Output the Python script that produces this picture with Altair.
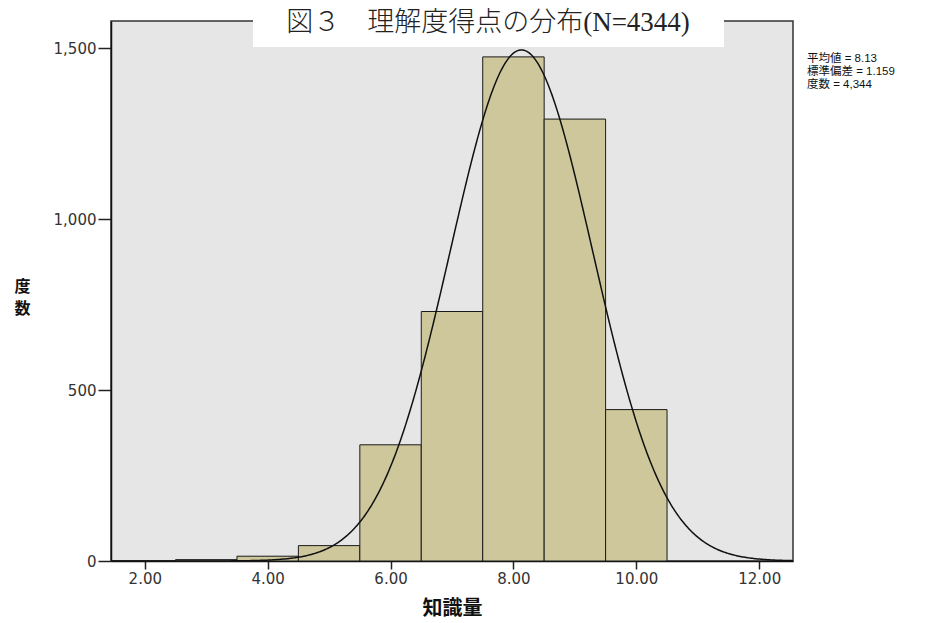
import math
import altair as alt
import pandas as pd

# ---- data ----
bin_centers = [3, 4, 5, 6, 7, 8, 9, 10]
counts = [4, 14, 45, 340, 730, 1475, 1293, 443]
bin_width = 1.0
mean_value = 8.13
sd_value = 1.159
n_total = 4344
x_ticks = [2, 4, 6, 8, 10, 12]
y_ticks = [0, 500, 1000, 1500]
x_domain = [1.45, 12.55]
y_domain = [0, 1580]
title_text = "図３　理解度得点の分布(N=4344)"
stats_lines = ["平均値 = 8.13", "標準偏差 = 1.159", "度数 = 4,344"]
x_title = "知識量"
y_title = ["度", "数"]

bars_df = pd.DataFrame({
    "lo": [c - bin_width / 2 for c in bin_centers],
    "hi": [c + bin_width / 2 for c in bin_centers],
    "count": counts,
})

W, H = 682, 540
label_font = "DejaVu Sans"
cjk_font = "Noto Sans CJK JP"

x_enc = alt.X(
    "lo:Q",
    scale=alt.Scale(domain=x_domain, nice=False, zero=False),
    axis=alt.Axis(values=x_ticks, format=".2f", title=x_title, tickSize=8,
                  labelPadding=2, titleY=47, titleBaseline="middle",
                  titleFont=cjk_font, titleFontSize=20, titleFontWeight="bold"),
)
y_enc = alt.Y(
    "count:Q",
    scale=alt.Scale(domain=y_domain, nice=False),
    axis=alt.Axis(values=y_ticks, format=",d", title=y_title, tickSize=13,
                  labelPadding=2, titleAngle=0, titleX=-89, titleY=H / 2 - 5,
                  titleAlign="center", titleBaseline="middle", titleLineHeight=22,
                  titleFont=cjk_font, titleFontSize=16, titleFontWeight="bold"),
)

bars = alt.Chart(bars_df).mark_rect(
    fill="#CDC79B", stroke="#1a1a1a", strokeWidth=1
).encode(x=x_enc, x2="hi:Q", y=y_enc, y2=alt.datum(0))

# fitted normal curve from the stated mean / sd (as in the reference)
peak = n_total * bin_width / (sd_value * math.sqrt(2 * math.pi))
curve = alt.Chart(alt.sequence(1.45, 12.56, 0.02, as_="lo")).transform_calculate(
    count=f"{peak} * exp(-0.5 * pow((datum.lo - {mean_value}) / {sd_value}, 2))"
).mark_line(color="#111", strokeWidth=1.5, clip=True).encode(
    x=alt.X("lo:Q"), y=alt.Y("count:Q")
)

one = pd.DataFrame({"k": [0]})
box = alt.Chart(one).mark_rect(color="white").encode(
    x=alt.value(142), x2=alt.value(613), y=alt.value(-21), y2=alt.value(26)
)
title = alt.Chart(one).mark_text(
    font="Liberation Serif, " + cjk_font, fontSize=27, fontWeight=300, color="#222",
    align="center", baseline="middle"
).encode(x=alt.value(377), y=alt.value(2), text=alt.value(title_text))

stats = alt.Chart(pd.DataFrame({"t": ["\n".join(stats_lines)]})).mark_text(
    font="Liberation Sans, " + cjk_font, fontSize=11.5, color="#111",
    align="left", baseline="top", lineBreak="\n", lineHeight=13
).encode(x=alt.value(696), y=alt.value(32), text="t:N")

chart = alt.layer(bars, curve, box, title, stats).properties(
    width=W, height=H,
    autosize=alt.AutoSizeParams(type="none"),
    padding={"left": 111, "top": 21, "right": 158, "bottom": 62},
    background="white",
).configure_view(
    fill="#E6E6E6", stroke="#333", strokeWidth=1.5
).configure_axis(
    labelFont=label_font, labelFontSize=15, labelColor="#333",
    domainColor="#111", domainWidth=1.5, tickColor="#222", tickWidth=1.5,
    grid=False, titleColor="#111",
)

chart.save("out.html", embed_options={"renderer": "svg", "actions": False})
